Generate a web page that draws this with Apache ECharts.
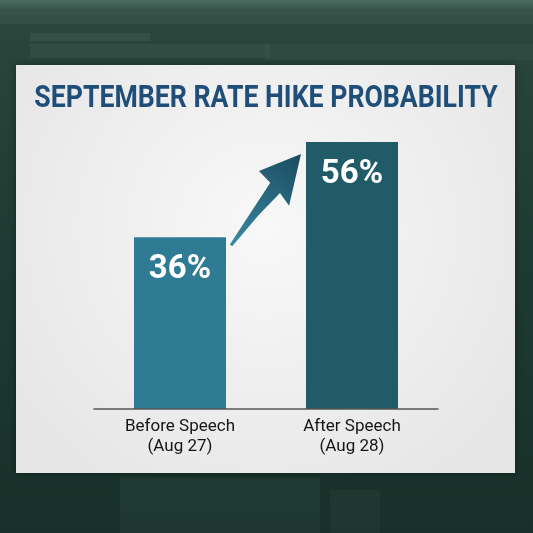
<!DOCTYPE html>
<html>
<head>
<meta charset="utf-8">
<title>September Rate Hike Probability</title>
<script src="https://cdn.jsdelivr.net/npm/echarts@6/dist/echarts.min.js"></script>
<style>
  html, body { margin: 0; padding: 0; }
  #chart { width: 533px; height: 533px; }
</style>
</head>
<body>
<div id="chart"></div>
<script>
// data
const titleText = 'SEPTEMBER RATE HIKE PROBABILITY';
const categories = ['Before Speech\n(Aug 27)', 'After Speech\n(Aug 28)'];
const probabilities = [36, 56];
const barColors = ['#2f7b94', '#205b67'];

const chart = echarts.init(document.getElementById('chart'));

const option = {
  backgroundColor: {
    type: 'linear', x: 0, y: 0, x2: 0, y2: 1,
    colorStops: [
      { offset: 0, color: '#4c6b61' },
      { offset: 0.03, color: '#2a463d' },
      { offset: 0.5, color: '#1d3a32' },
      { offset: 1, color: '#173029' }
    ]
  },
  animation: false,
  grid: { left: 94, right: 95, top: 142, bottom: 124 },
  xAxis: {
    type: 'category',
    data: categories,
    axisTick: { show: false },
    axisLine: { lineStyle: { color: '#555', width: 1.5 } },
    axisLabel: {
      color: '#151515',
      fontFamily: 'Roboto',
      fontSize: 17,
      lineHeight: 20,
      margin: 8
    },
    z: 5
  },
  yAxis: {
    type: 'value',
    min: 0,
    max: 56,
    show: false,
    splitLine: { show: false }
  },
  series: [{
    type: 'bar',
    barWidth: 92,
    data: probabilities.map((v, i) => ({ value: v, itemStyle: { color: barColors[i] } })),
    label: {
      show: true,
      position: 'insideTop',
      distance: 16,
      color: '#fff',
      fontFamily: 'Roboto',
      fontWeight: 'bold',
      fontSize: 33,
      formatter: '{c}%'
    },
    z: 4
  }],
  graphic: [
    // faint trading-screen shapes behind the panel
    { type: 'rect', shape: { x: 0, y: 12, width: 533, height: 12 }, style: { fill: 'rgba(120,150,140,0.12)' }, z: 0 },
    { type: 'rect', shape: { x: 30, y: 33, width: 120, height: 8 }, style: { fill: 'rgba(120,150,140,0.14)' }, z: 0 },
    { type: 'rect', shape: { x: 30, y: 44, width: 240, height: 14 }, style: { fill: 'rgba(110,140,130,0.12)' }, z: 0 },
    { type: 'rect', shape: { x: 265, y: 44, width: 268, height: 16 }, style: { fill: 'rgba(90,120,110,0.12)' }, z: 0 },
    { type: 'rect', shape: { x: 120, y: 478, width: 200, height: 55 }, style: { fill: 'rgba(110,140,130,0.09)' }, z: 0 },
    { type: 'rect', shape: { x: 330, y: 490, width: 50, height: 43 }, style: { fill: 'rgba(110,140,130,0.07)' }, z: 0 },
    // white panel
    {
      type: 'rect',
      shape: { x: 16, y: 65, width: 499, height: 408 },
      style: {
        fill: {
          type: 'radial', x: 0.5, y: 0.4, r: 0.75,
          colorStops: [
            { offset: 0, color: '#f8f8f8' },
            { offset: 1, color: '#e6e6e6' }
          ]
        },
        shadowBlur: 8,
        shadowColor: 'rgba(0,0,0,0.35)'
      },
      z: 1
    },
    // title, slightly condensed to match the poster lettering
    {
      type: 'text',
      x: 266,
      y: 99,
      scaleX: 0.86,
      style: {
        text: titleText,
        fill: '#1f4e79',
        font: 'bold 31px Roboto',
        align: 'center',
        verticalAlign: 'middle'
      },
      z: 2
    }
  ]
};

chart.setOption(option);

// rising arrow between the two bars, placed from the bar positions
function drawArrow() {
  const half = 46;
  const p1 = chart.convertToPixel({ seriesIndex: 0 }, [0, probabilities[0]]);
  const p2 = chart.convertToPixel({ seriesIndex: 0 }, [1, probabilities[1]]);
  const ax = p1[0] + half + 5, ay = p1[1] + 8;
  const bx = p2[0] - half - 5, by = p2[1] + 12;
  const dx = bx - ax, dy = by - ay;
  const len = Math.sqrt(dx * dx + dy * dy);
  const tx = dx / len, ty = dy / len;
  const nx = -ty, ny = tx;
  const pt = (u, v) => [ax + tx * u * len + nx * v, ay + ty * u * len + ny * v];
  const pts = [
    pt(0, 1.5), pt(0.35, 3.5), pt(0.62, 7), pt(0.58, 22), pt(1, 0),
    pt(0.66, -23), pt(0.64, -7), pt(0.35, -4.5), pt(0, -1.5)
  ];
  chart.setOption({
    graphic: [{
      id: 'arrow',
      type: 'polygon',
      shape: { points: pts },
      style: {
        fill: {
          type: 'linear', x: 0, y: 1, x2: 1, y2: 0,
          colorStops: [
            { offset: 0, color: '#3a8aa3' },
            { offset: 1, color: '#1a4b60' }
          ]
        }
      },
      z: 3
    }]
  });
}
drawArrow();
</script>
</body>
</html>
